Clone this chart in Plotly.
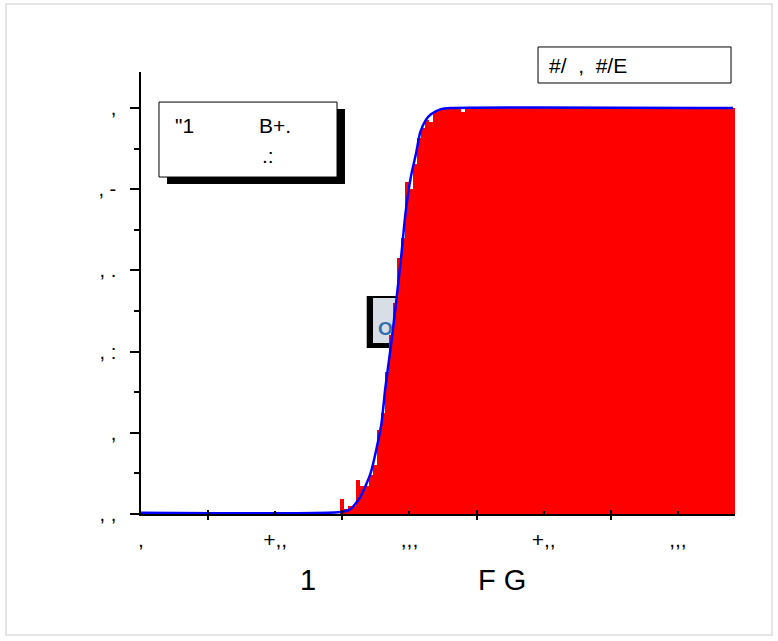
import plotly.graph_objects as go

# ---------------- data ----------------
x_tick_vals = [0, 100, 200, 300, 400]
x_tick_text = [",", "+,,", ",,,", "+,,", ",,,"]
x_major_marks = [50, 150, 250, 350]
y_tick_vals = [0, 0.2, 0.4, 0.6, 0.8, 1.0]
y_tick_text = [", ,", ",", ", :", ", .", ", -", ","]
y_minor_marks = [0.1, 0.3, 0.5, 0.7, 0.9]

bin_start = 148.5
bin_width = 3
bar_heights = [
    0.037, 0.012, 0.020, 0.020, 0.084, 0.070, 0.070, 0.096, 0.120, 0.207,
    0.250, 0.350, 0.440, 0.520, 0.630, 0.680, 0.817, 0.800, 0.863, 0.927,
    0.950, 0.970, 0.965, 0.990, 0.995, 1.000, 1.000, 1.000, 1.000, 1.000,
    0.990, 1.000, 1.000, 1.000, 1.000, 1.000, 1.000, 1.000, 1.000, 1.000,
    1.000, 1.000, 1.000, 1.000, 1.000, 1.000, 1.000, 1.000, 1.000, 1.000,
    1.000, 1.000, 1.000, 1.000, 1.000, 1.000, 1.000, 1.000, 1.000, 1.000,
    1.000, 1.000, 1.000, 1.000, 1.000, 1.000, 1.000, 1.000, 1.000, 1.000,
    1.000, 1.000, 1.000, 1.000, 1.000, 1.000, 1.000, 1.000, 1.000, 1.000,
    1.000, 1.000, 1.000, 1.000, 1.000, 1.000, 1.000, 1.000, 1.000, 1.000,
    1.000, 1.000, 1.000, 1.000, 1.000, 1.000, 1.000, 1.000,
]

curve_x = [0, 148.5, 156, 163, 171, 179, 182, 186, 190, 194, 197, 201,
           205, 208, 212, 216, 223, 231, 441]
curve_y = [0.003, 0.005, 0.012, 0.04, 0.10, 0.22, 0.31, 0.41, 0.52, 0.64,
           0.74, 0.83, 0.89, 0.94, 0.97, 0.985, 0.997, 1.0, 1.0]

legend_left = '"1'
legend_right = "B+."
legend_sub = ".:"
box_text = "#/\u00a0 ,\u00a0 #/E"
title_left = "1"
title_right = "F G"
button_text = "O"

FONT = "Arial, Liberation Sans, sans-serif"

bar_x = [bin_start + bin_width * (i + 0.5) for i in range(len(bar_heights))]
x_end = bin_start + bin_width * len(bar_heights)

fig = go.Figure()
fig.add_trace(go.Bar(x=bar_x, y=bar_heights, width=bin_width,
                     marker=dict(color="#ff0000", line=dict(width=0)),
                     showlegend=False, hoverinfo="skip"))
fig.add_trace(go.Scatter(x=curve_x, y=curve_y, mode="lines",
                         line=dict(color="#0000ff", width=2.5, shape="spline", smoothing=0.6),
                         showlegend=False, hoverinfo="skip"))
# overlay axis just for the inner half of crossing ticks
fig.add_trace(go.Scatter(x=[None], y=[None], xaxis="x2", yaxis="y", showlegend=False))

fig.update_layout(
    width=778, height=641,
    margin=dict(l=141, r=778 - 735, t=72, b=641 - 514),
    paper_bgcolor="white", plot_bgcolor="white",
    bargap=0,
    font=dict(family=FONT, color="black"),
    xaxis=dict(range=[0, x_end], tickmode="array", tickvals=x_tick_vals, ticktext=x_tick_text,
               ticks="inside", ticklen=3, tickwidth=1.5, tickcolor="black",
               showline=True, linecolor="black", linewidth=1.5, showgrid=False, zeroline=False,
               tickfont=dict(size=21, family=FONT, color="black"), ticklabelstandoff=6,
               minor=dict(tickmode="array", tickvals=x_major_marks, ticks="outside", ticklen=4,
                          tickwidth=1.5, tickcolor="black", showgrid=False)),
    xaxis2=dict(range=[0, x_end], overlaying="x", anchor="y", side="bottom",
                tickmode="array", tickvals=x_major_marks, ticks="inside", ticklen=4,
                tickwidth=1.5, tickcolor="black", showticklabels=False, showline=False,
                showgrid=False, zeroline=False),
    yaxis=dict(range=[0, 1.089], tickmode="array", tickvals=y_tick_vals, ticktext=y_tick_text,
               ticks="outside", ticklen=9, tickwidth=1.5, tickcolor="black",
               showline=True, linecolor="black", linewidth=1.5, showgrid=False, zeroline=False,
               tickfont=dict(size=20, family=FONT, color="black"), ticklabelstandoff=10,
               minor=dict(tickmode="array", tickvals=y_minor_marks, ticks="outside", ticklen=5,
                          tickwidth=1.5, tickcolor="black", showgrid=False)),
)

shapes = [
    # outer light frame
    dict(type="rect", xref="paper", yref="paper", x0=-0.2273, x1=1.0623, y0=-0.2738, y1=1.1538,
         line=dict(color="#dddddd", width=1.5), fillcolor="rgba(0,0,0,0)", layer="below"),
    # legend shadow + box
    dict(type="rect", xref="paper", yref="paper", x0=0.0438, x1=0.3434, y0=0.7466, y1=0.9163,
         line=dict(width=0), fillcolor="black"),
    dict(type="rect", xref="paper", yref="paper", x0=0.0303, x1=0.33, y0=0.7624, y1=0.932,
         line=dict(color="black", width=1), fillcolor="white"),
    # top-right box
    dict(type="rect", xref="paper", yref="paper", x0=0.6684, x1=0.9933, y0=0.9751, y1=1.0566,
         line=dict(color="black", width=1), fillcolor="white"),
    # button fragment under the bars
    dict(type="rect", xref="paper", yref="paper", x0=0.380, x1=0.4305, y0=0.3756, y1=0.4932,
         line=dict(width=0), fillcolor="black", layer="below"),
    dict(type="rect", xref="paper", yref="paper", x0=0.3906, x1=0.436, y0=0.3869, y1=0.4887,
         line=dict(width=0), fillcolor="#d8dee6", layer="below"),
]
fig.update_layout(shapes=shapes)

ann = [
    dict(text=legend_left, x=0.074, y=0.88, size=21),
    dict(text=legend_right, x=0.2256, y=0.88, size=21),
    dict(text=legend_sub, x=0.2138, y=0.812, size=21),
    dict(text=title_left, x=0.281, y=-0.149, size=29),
    dict(text=title_right, x=0.6077, y=-0.149, size=29),
]
annotations = [dict(text=a["text"], xref="paper", yref="paper", x=a["x"], y=a["y"],
                    showarrow=False, xanchor="center", yanchor="middle",
                    font=dict(size=a["size"], family=FONT, color="black")) for a in ann]
annotations.append(dict(text=box_text, xref="paper", yref="paper", x=0.6835, y=1.0136,
                        showarrow=False, xanchor="left", yanchor="middle",
                        font=dict(size=21, family=FONT, color="black")))
annotations.append(dict(text="<b>" + button_text + "</b>", xref="paper", yref="paper",
                        x=0.4108, y=0.4208, showarrow=False, xanchor="center", yanchor="middle",
                        font=dict(size=19, family=FONT, color="#2f6fb0")))
fig.update_layout(annotations=annotations)

fig.write_html("out.html", config={"displayModeBar": False},
               post_script="document.body.style.margin='0px';")
